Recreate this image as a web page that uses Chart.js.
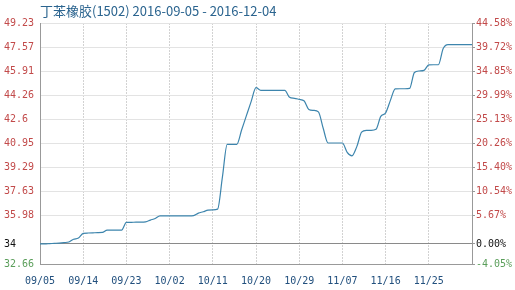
<!DOCTYPE html>
<html>
<head>
<meta charset="utf-8">
<script src="https://cdn.jsdelivr.net/npm/chart.js@4"></script>
<style>
    body { margin: 0; background: #fff; }
    #wrap { width: 515px; height: 290px; position: relative; }
</style>
</head>
<body>
<div id="wrap"><canvas id="myChart"></canvas></div>
<script>
const title = '丁苯橡胶(1502) 2016-09-05 - 2016-12-04';

// daily prices, 09/05 .. 12/04
const prices = [
    34.04, 34.04, 34.06, 34.08, 34.10, 34.13, 34.17, 34.36, 34.44, 34.77,
    34.79, 34.80, 34.82, 34.83, 34.99, 34.99, 34.99, 34.99, 35.52, 35.52,
    35.54, 35.54, 35.56, 35.68, 35.79, 35.97, 35.97, 35.97, 35.97, 35.97,
    35.97, 35.97, 35.99, 36.16, 36.25, 36.36, 36.38, 36.43, 38.63, 40.89,
    40.89, 40.89, 41.87, 42.86, 43.84, 44.78, 44.60, 44.60, 44.60, 44.60,
    44.60, 44.60, 44.12, 44.05, 43.98, 43.88, 43.29, 43.22, 43.12, 41.99,
    40.98, 40.98, 40.98, 40.98, 40.34, 40.10, 40.73, 41.72, 41.85, 41.85,
    41.92, 42.81, 43.05, 43.91, 44.70, 44.71, 44.71, 44.73, 45.83, 45.93,
    45.97, 46.35, 46.36, 46.36, 47.48, 47.75, 47.75, 47.75, 47.75, 47.75,
    47.75
];

const startDate = new Date(2016, 8, 5);
const dates = [];
for (let i = 0; i < prices.length; i++) {
    const d = new Date(startDate.getTime() + i * 86400000);
    dates.push(String(d.getMonth() + 1).padStart(2, '0') + '/' + String(d.getDate()).padStart(2, '0'));
}

const leftTickValues = [32.66, 34.04, 35.98, 37.63, 39.29, 40.95, 42.6, 44.26, 45.91, 47.57, 49.23];
const leftTickLabels = ['32.66', '34', '35.98', '37.63', '39.29', '40.95', '42.6', '44.26', '45.91', '47.57', '49.23'];
const rightTickValues = [-4.05, 0, 5.67, 10.54, 15.40, 20.26, 25.13, 29.99, 34.85, 39.72, 44.58];
const rightTickLabels = ['-4.05%', '0.00%', '5.67%', '10.54%', '15.40%', '20.26%', '25.13%', '29.99%', '34.85%', '39.72%', '44.58%'];

const tickFont = { family: 'DejaVu Sans Mono', size: 10 };
const labelColor = function(ctx) {
    if (ctx.index === 0) return '#5a9e5a';
    if (ctx.index === 1) return '#111';
    return '#c24a4a';
};

const ctx = document.getElementById('myChart').getContext('2d');
const myChart = new Chart(ctx, {
    type: 'line',
    data: {
        labels: dates,
        datasets: [{
            data: prices,
            borderColor: '#3d85ad',
            borderWidth: 1.2,
            pointRadius: 0,
            cubicInterpolationMode: 'monotone',
            yAxisID: 'y'
        }]
    },
    options: {
        responsive: true,
        maintainAspectRatio: false,
        animation: false,
        layout: { padding: { left: 4 } },
        plugins: {
            legend: { display: false },
            tooltip: { enabled: false },
            title: {
                display: true,
                text: title,
                align: 'start',
                fullSize: false,
                color: '#2b648f',
                font: { family: 'Noto Sans CJK SC', size: 13, weight: 'normal', lineHeight: 1.2 },
                padding: { top: 3, bottom: 4.4 }
            }
        },
        scales: {
            x: {
                offset: false,
                afterFit: function(scale) { scale.height = 26; },
                ticks: {
                    autoSkip: false,
                    maxRotation: 0,
                    color: '#22507e',
                    font: tickFont,
                    padding: 11,
                    callback: function(value, index) {
                        return (index % 9 === 0 && index < 90) ? dates[index] : '';
                    }
                },
                grid: {
                    drawTicks: false,
                    color: function(c) {
                        return (c.index % 9 === 0) ? '#d2d2d2' : 'rgba(0,0,0,0)';
                    }
                },
                border: { color: '#999', dash: [2, 1] }
            },
            y: {
                position: 'left',
                min: 32.66,
                max: 49.23,
                afterBuildTicks: function(axis) {
                    axis.ticks = leftTickValues.map(v => ({ value: v }));
                },
                afterFit: function(scale) { scale.width = 36; },
                ticks: {
                    crossAlign: 'far',
                    color: labelColor,
                    font: tickFont,
                    padding: 4,
                    callback: function(value, index) { return leftTickLabels[index]; }
                },
                grid: {
                    drawTicks: false,
                    color: function(c) {
                        return c.index === 1 ? '#8a8a8a' : '#e3e3e3';
                    }
                },
                border: { color: '#999' }
            },
            y2: {
                position: 'right',
                min: -4.05,
                max: 44.58,
                afterBuildTicks: function(axis) {
                    axis.ticks = rightTickValues.map(v => ({ value: v }));
                },
                afterFit: function(scale) { scale.width = 43; },
                ticks: {
                    color: labelColor,
                    font: tickFont,
                    padding: 1,
                    callback: function(value, index) { return rightTickLabels[index]; }
                },
                grid: {
                    drawOnChartArea: false,
                    drawTicks: true,
                    tickLength: 3,
                    color: '#999'
                },
                border: { color: '#999' }
            }
        }
    }
});
</script>
</body>
</html>
